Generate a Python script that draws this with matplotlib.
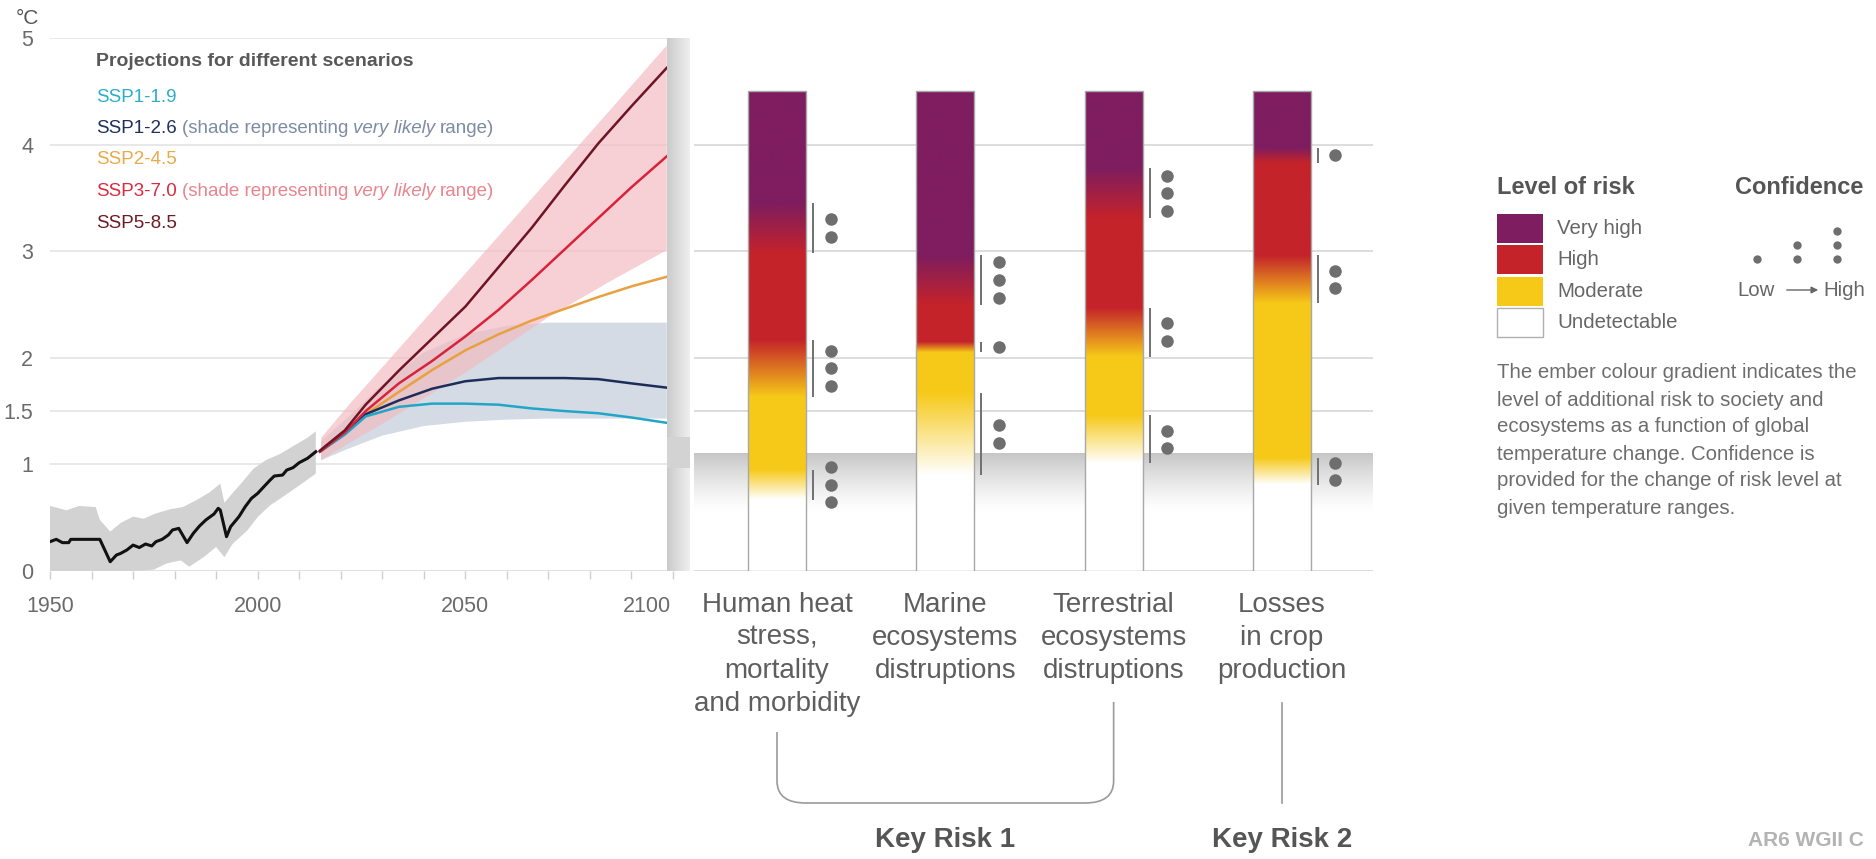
import numpy as np
import matplotlib
matplotlib.use("Agg")
import matplotlib.pyplot as plt
from matplotlib import font_manager
from matplotlib.patches import Rectangle, PathPatch
from matplotlib.path import Path
import matplotlib.transforms as mtransforms
from matplotlib.colors import to_rgb

W, H, DPI = 1876, 859, 100

_avail = {f.name for f in font_manager.fontManager.ttflist}
SANS = 'Liberation Sans' if 'Liberation Sans' in _avail else 'DejaVu Sans'
HAS_NARROW = 'Liberation Sans Narrow' in _avail
NARROW = 'Liberation Sans Narrow' if HAS_NARROW else SANS
NSIZE = 16 if HAS_NARROW else 13.5
TSIZE = 16 if HAS_NARROW else 14
plt.rcParams['font.family'] = [SANS, 'DejaVu Sans']

# ---------------- data ----------------
# observed warming (°C, relative to pre-industrial)
hist_years = [1950, 1951.5, 1953, 1954.5, 1955, 1962, 1964.5, 1966, 1967, 1968.5, 1970, 1971.5,
              1973, 1974.5, 1975.5, 1977, 1978.5, 1979.5, 1981, 1983, 1984.5, 1986, 1987.5,
              1989.5, 1990.5, 1991, 1992.5, 1993.5, 1995.5, 1997, 1998.5, 2000, 2001.5, 2003,
              2004, 2006, 2007, 2008.5, 2010, 2012, 2014]
hist_temp = [0.275, 0.297, 0.266, 0.266, 0.297, 0.297, 0.087, 0.15, 0.165, 0.197, 0.243, 0.22,
             0.253, 0.235, 0.275, 0.297, 0.338, 0.385, 0.40, 0.266, 0.353, 0.422, 0.478,
             0.535, 0.588, 0.572, 0.322, 0.416, 0.51, 0.603, 0.681, 0.728, 0.791, 0.853,
             0.891, 0.90, 0.947, 0.969, 1.016, 1.057, 1.119]
hist_up_years = [1950, 1954, 1957, 1961, 1962, 1964.5, 1967, 1970, 1972.5, 1975.5, 1979, 1982,
                 1985.5, 1988.5, 1991, 1992, 1993.5, 1996, 1999, 2002, 2005.5, 2008.5, 2012, 2014]
hist_up = [0.61, 0.57, 0.61, 0.60, 0.48, 0.37, 0.45, 0.51, 0.49, 0.54, 0.58, 0.60,
           0.67, 0.74, 0.82, 0.64, 0.71, 0.82, 0.96, 1.04, 1.10, 1.17, 1.25, 1.31]
hist_lo_years = [1950, 1962, 1970, 1975, 1978, 1981.5, 1983.5, 1987, 1990, 1992, 1994, 1997.5,
                 2000, 2003, 2006, 2009.5, 2014]
hist_lo = [0.0, 0.0, 0.0, 0.013, 0.07, 0.10, 0.04, 0.13, 0.225, 0.13, 0.256, 0.38,
           0.506, 0.616, 0.694, 0.788, 0.913]

# scenario projections
proj_years = [2015, 2021, 2026, 2034, 2042, 2050, 2058, 2066, 2074, 2082, 2090, 2098.5]
ssp119 = [1.12, 1.28, 1.45, 1.54, 1.57, 1.57, 1.56, 1.525, 1.50, 1.48, 1.44, 1.39]
ssp126 = [1.12, 1.29, 1.47, 1.60, 1.71, 1.78, 1.81, 1.81, 1.81, 1.80, 1.76, 1.72]
ssp245 = [1.12, 1.29, 1.47, 1.68, 1.885, 2.07, 2.22, 2.35, 2.46, 2.57, 2.67, 2.76]
ssp370 = [1.12, 1.30, 1.50, 1.76, 1.97, 2.20, 2.45, 2.73, 3.02, 3.31, 3.60, 3.89]
ssp585 = [1.13, 1.32, 1.56, 1.88, 2.18, 2.48, 2.85, 3.22, 3.62, 4.01, 4.36, 4.72]

band_years = [2015.3, 2022, 2030, 2040, 2050, 2060, 2070, 2085, 2098.5]
ssp126_hi = [1.22, 1.45, 1.75, 2.05, 2.22, 2.30, 2.33, 2.33, 2.33]
ssp126_lo = [1.04, 1.15, 1.27, 1.36, 1.40, 1.42, 1.43, 1.43, 1.43]
ssp370_hi = [1.25, 1.56, 1.91, 2.35, 2.79, 3.23, 3.67, 4.33, 4.93]
ssp370_lo = [1.04, 1.20, 1.38, 1.62, 1.86, 2.12, 2.38, 2.72, 3.01]

scenario_names = ["SSP1-1.9", "SSP1-2.6", "SSP2-4.5", "SSP3-7.0", "SSP5-8.5"]
scenario_colors = ["#22a6c8", "#1c2d5a", "#e9a040", "#d8233b", "#6f1424"]
scenario_text_colors = ["#2aaecb", "#1f2f5c", "#eaa94a", "#d92a40", "#6f1a24"]

# burning embers
ember_names = ["Human heat\nstress,\nmortality\nand morbidity",
               "Marine\necosystems\ndistruptions",
               "Terrestrial\necosystems\ndistruptions",
               "Losses\nin crop\nproduction"]
# transitions: undetectable->moderate, moderate->high, high->very high (°C)
trans_lo = [[0.67, 1.63, 2.98], [0.90, 2.05, 2.50], [1.01, 2.01, 3.31], [0.81, 2.51, 3.83]]
trans_hi = [[0.95, 2.17, 3.45], [1.67, 2.15, 2.96], [1.46, 2.47, 3.78], [1.06, 2.96, 3.97]]
conf_dots = [[3, 3, 2], [2, 1, 3], [2, 2, 3], [2, 2, 1]]
ember_top = 4.5
current_warming = 1.1

risk_levels = ["Very high", "High", "Moderate", "Undetectable"]
risk_colors = ["#7e1d5f", "#c4232a", "#f6c919", "#ffffff"]
desc_lines = ["The ember colour gradient indicates the",
              "level of additional risk to society and",
              "ecosystems as a function of global",
              "temperature change. Confidence is",
              "provided for the change of risk level at",
              "given temperature ranges."]

# ---------------- figure ----------------
fig = plt.figure(figsize=(W / DPI, H / DPI), dpi=DPI)
fig.patch.set_facecolor('white')


def fx(px):
    return px / W


def fy(py):
    return 1 - py / H


Y0, Y5 = 571, 38
axb, axh = fy(Y0), (Y0 - Y5) / H

# ---- left: temperature projections ----
ax = fig.add_axes([fx(50), axb, fx(690) - fx(50), axh])
XEND = 2098.6
ax.hlines([1, 1.5, 2, 3, 4, 5], 1950, XEND, colors='#e4e4e4', lw=1.2, zorder=1)
ax.hlines([0], 1950, XEND, colors='#dadada', lw=1.2, zorder=1)

ax.fill(hist_up_years + hist_lo_years[::-1], hist_up + hist_lo[::-1],
        fc='#d2d2d2', ec='none', zorder=2)
ax.plot(hist_years, hist_temp, color='#111111', lw=2.2, zorder=4)

ax.fill_between(band_years, ssp126_lo, ssp126_hi, fc='#d5dbe4', ec='none', zorder=2)
ax.fill_between(band_years, ssp370_lo, ssp370_hi, fc='#f3b8bf', ec='none', alpha=0.65, zorder=2.5)
for vals, col in zip([ssp245, ssp126, ssp119, ssp370, ssp585],
                     [scenario_colors[2], scenario_colors[1], scenario_colors[0],
                      scenario_colors[3], scenario_colors[4]]):
    ax.plot(proj_years, vals, color=col, lw=1.8, zorder=4)

# grey strip at right edge of the time axis
strip = np.linspace(0, 1, 60)
c1, c2 = np.array(to_rgb('#cbcbcb')), np.array(to_rgb('#efefef'))
simg = (c1[None, :] * (1 - strip[:, None]) + c2[None, :] * strip[:, None])[None, :, :]
ax.imshow(simg, extent=[XEND, 2104.1, 0, 5], aspect='auto', zorder=5, interpolation='bilinear')
ax.add_patch(Rectangle((XEND, 0.97), 2104.1 - XEND, 0.29, fc='#d3d3d3', ec='none', zorder=6))

ax.set_xlim(1950, 2104.1)
ax.set_ylim(0, 5)
ax.set_xticks([1950, 2000, 2050, 2100])
ax.set_xticklabels(['1950', '2000', '2050', ''])
ax.set_xticks(np.arange(1960, 2100, 10), minor=True)
ax.tick_params(axis='x', which='both', length=6, width=1, color='#cfcfcf',
               labelsize=15.5, labelcolor='#6b6b6b', pad=12)
ax.set_yticks([0, 1, 1.5, 2, 3, 4, 5])
ax.set_yticklabels(['0', '1', '1.5', '2', '3', '4', '5'])
ax.tick_params(axis='y', length=0, labelsize=15.5, labelcolor='#6b6b6b', pad=12)
for s in ax.spines.values():
    s.set_visible(False)
fig.text(fx(647), fy(606), '2100', ha='center', va='center', fontsize=15.5, color='#6b6b6b')
fig.text(fx(16), fy(18), '°C', ha='left', va='center', fontsize=15, color='#555555')

# legend of the projections
ax.text(fx(96), fy(61), 'Projections for different scenarios', transform=fig.transFigure,
        ha='left', va='center', fontsize=TSIZE, fontweight='bold', color='#585858', family=NARROW)
shade_cols = {1: '#7d8ba3', 3: '#e8858f'}
for k, (nm, col) in enumerate(zip(scenario_names, scenario_text_colors)):
    t = ax.text(fx(96), fy(97 + 31.5 * k), nm, transform=fig.transFigure, ha='left', va='center',
                fontsize=NSIZE, color=col, family=NARROW)
    if k in shade_cols:
        sc = shade_cols[k]
        prev = t
        for piece, style in [('(shade representing', 'normal'), ('very likely', 'italic'),
                             ('range)', 'normal')]:
            prev = ax.annotate(piece, xy=(1, 0), xycoords=prev, xytext=(3.5, 0),
                               textcoords='offset points', ha='left', va='bottom',
                               fontsize=NSIZE, color=sc, style=style, family=NARROW)

# ---- right: burning embers ----
XL, XR = -0.517, 3.541
ax2 = fig.add_axes([fx(690), axb, fx(1373) - fx(690), axh])
ax2.set_axis_off()
band_x0 = -0.493
ax2.hlines([0, 1.5, 2, 3, 4], band_x0, XR, colors='#dadada', lw=1.3, zorder=1)
gb = np.zeros((120, 1, 4))
gb[:, 0, :3] = 0.78
gb[:, 0, 3] = np.linspace(0, 1, 120) ** 1.3
ax2.imshow(gb, extent=[band_x0, XR, 0.55, current_warming], origin='lower', aspect='auto',
           zorder=2, interpolation='bilinear')

lvl_rgb = [np.array(to_rgb(c)) for c in ['#ffffff', risk_colors[2], risk_colors[1], risk_colors[0]]]
hw = 0.172
tgrid = np.linspace(0, ember_top, 901)
for i in range(len(ember_names)):
    lvl = np.zeros_like(tgrid)
    for lo, hi in zip(trans_lo[i], trans_hi[i]):
        lvl += np.clip((tgrid - lo) / (hi - lo), 0, 1)
    cols = np.stack([np.interp(lvl, [0, 1, 2, 3], [c[ch] for c in lvl_rgb]) for ch in range(3)], axis=1)
    ax2.imshow(cols[:, None, :], extent=[i - hw, i + hw, 0, ember_top], origin='lower',
               aspect='auto', zorder=3, interpolation='bilinear')
    ax2.add_patch(Rectangle((i - hw, 0), 2 * hw, ember_top, fill=False, ec='#a8a8a8', lw=1.0, zorder=4))
    for lo, hi, n in zip(trans_lo[i], trans_hi[i], conf_dots[i]):
        ax2.vlines(i + 0.214, lo, hi, colors='#707070', lw=1.4, zorder=4)
        mid = (lo + hi) / 2
        ys = mid + 0.165 * (np.arange(n) - (n - 1) / 2)
        ax2.plot([i + 0.318] * n, ys, 'o', ms=9, color='#6e6e6e', mec='none', zorder=4)
ax2.set_xlim(XL, XR)
ax2.set_ylim(0, 5)

# category labels
blend = mtransforms.blended_transform_factory(ax2.transData, fig.transFigure)
for i, nm in enumerate(ember_names):
    for k, line in enumerate(nm.split('\n')):
        ax2.text(i, fy(605 + 33 * k), line, transform=blend, ha='center', va='center',
                 fontsize=20, color='#5e5e5e')

# key risk brackets
rx, ry = 0.17, 22
verts = [(0, fy(732)), (0, fy(803 - ry)), (0, fy(803)), (rx, fy(803)),
         (2 - rx, fy(803)), (2, fy(803)), (2, fy(803 - ry)), (2, fy(702))]
codes = [Path.MOVETO, Path.LINETO, Path.CURVE3, Path.CURVE3, Path.LINETO, Path.CURVE3,
         Path.CURVE3, Path.LINETO]
ax2.add_patch(PathPatch(Path(verts, codes), transform=blend, fill=False, ec='#9a9a9a', lw=1.2,
                        clip_on=False))
ax2.plot([3, 3], [fy(703), fy(803)], transform=blend, color='#9a9a9a', lw=1.2, clip_on=False)
ax2.text(1, fy(840), 'Key Risk 1', transform=blend, ha='center', va='center', fontsize=20,
         fontweight='bold', color='#555555')
ax2.text(3, fy(840), 'Key Risk 2', transform=blend, ha='center', va='center', fontsize=20,
         fontweight='bold', color='#555555')
fig.text(fx(1748), fy(840), 'AR6 WGII C', ha='left', va='center', fontsize=15,
         fontweight='bold', color='#b3b3b3', family=NARROW)

# ---- legend ----
fig.text(fx(1497), fy(188), 'Level of risk', ha='left', va='center', fontsize=17,
         fontweight='bold', color='#555555')
fig.text(fx(1735), fy(188), 'Confidence', ha='left', va='center', fontsize=17,
         fontweight='bold', color='#555555')
patch_tops = [214, 245, 277, 308]
for nm, col, top in zip(risk_levels, risk_colors, patch_tops):
    fig.add_artist(Rectangle((fx(1497), fy(top + 29)), fx(1543) - fx(1497), 29 / H,
                             transform=fig.transFigure, fc=col,
                             ec='#b0b0b0' if col == '#ffffff' else 'none', lw=1))
    fig.text(fx(1557), fy(top + 14.5), nm, ha='left', va='center', fontsize=14.7, color='#666666')
for x, n in zip([1757, 1797, 1837], [1, 2, 3]):
    ys = [fy(259 - 14 * j) for j in range(n)]
    fig.add_artist(plt.Line2D([fx(x)] * n, ys, transform=fig.transFigure, ls='none', marker='o',
                              ms=6, color='#6e6e6e', mec='none'))
fig.text(fx(1737), fy(290), 'Low', ha='left', va='center', fontsize=14.7, color='#666666')
fig.text(fx(1823), fy(290), 'High', ha='left', va='center', fontsize=14.7, color='#666666')
ax2.annotate('', xy=(fx(1821), fy(290)), xytext=(fx(1784), fy(290)), xycoords='figure fraction',
             textcoords='figure fraction',
             arrowprops=dict(arrowstyle='-|>', color='#666666', lw=1.0, mutation_scale=10))
for k, line in enumerate(desc_lines):
    fig.text(fx(1497), fy(373 + 27 * k), line, ha='left', va='center', fontsize=14.7, color='#6d6d6d')

fig.savefig('out.png', dpi=DPI, facecolor='white')
